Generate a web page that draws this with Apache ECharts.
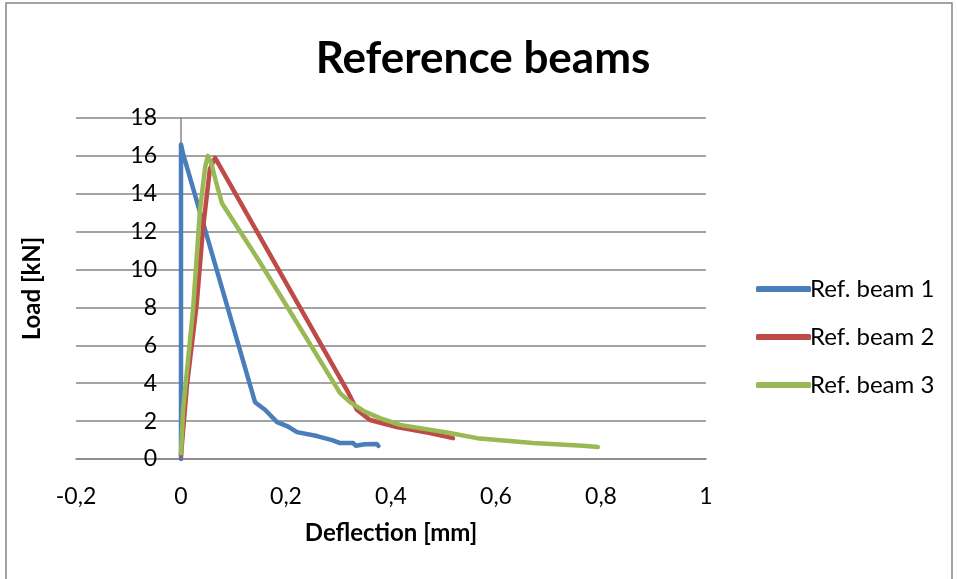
<!DOCTYPE html>
<html>
<head>
<meta charset="utf-8">
<script src="https://cdn.jsdelivr.net/npm/echarts@6/dist/echarts.min.js"></script>
<style>
  html, body { margin: 0; padding: 0; background: #fff; }
  #main { width: 957px; height: 579px; }
</style>
</head>
<body>
<div id="main"></div>
<script>
// data: [deflection mm, load kN]
var beam1 = [[0, 0], [0, 8], [0, 16.6], [0.004, 16.1], [0.141, 3.0], [0.16, 2.6], [0.183, 1.95],
    [0.202, 1.74], [0.221, 1.42], [0.259, 1.21], [0.288, 1.0], [0.303, 0.84], [0.328, 0.84],
    [0.333, 0.7], [0.35, 0.78], [0.373, 0.79], [0.376, 0.69]];
var beam2 = [[0, 0.2], [0.011, 3.8], [0.03, 8.2], [0.042, 12.2], [0.055, 15.3], [0.065, 15.9],
    [0.316, 3.64], [0.335, 2.6], [0.36, 2.06], [0.411, 1.69], [0.474, 1.37], [0.518, 1.1]];
var beam3 = [[0, 0.3], [0.004, 2.6], [0.023, 7.9], [0.036, 13.1], [0.046, 15.4], [0.051, 16.0],
    [0.058, 15.6], [0.066, 14.7], [0.078, 13.5], [0.15, 10.4], [0.303, 3.48], [0.322, 3.0], [0.35, 2.5],
    [0.379, 2.16], [0.417, 1.8], [0.512, 1.37], [0.564, 1.1], [0.67, 0.84], [0.766, 0.7], [0.794, 0.63]];
var seriesNames = ['Ref. beam 1', 'Ref. beam 2', 'Ref. beam 3'];
var colors = ['#4A7EBB', '#BE4B48', '#98B954'];
var xTicks = { min: -0.2, max: 1, interval: 0.2 };
var yTicks = { min: 0, max: 18, interval: 2 };

var myChart = echarts.init(document.getElementById('main'));
var font = 'Lato, "Open Sans", sans-serif';

function mkSeries(name, data, color) {
    return {
        name: name,
        type: 'line',
        data: data,
        showSymbol: false,
        smooth: false,
        lineStyle: { width: 4.5, color: color, cap: 'round', join: 'round' },
        itemStyle: { color: color }
    };
}

var option = {
    animation: false,
    backgroundColor: '#fff',
    title: {
        text: 'Reference beams',
        left: 478,
        top: 32,
        textAlign: 'center',
        textStyle: { fontFamily: font, fontWeight: 'bold', fontSize: 44, color: '#000' }
    },
    legend: {
        orient: 'vertical',
        left: 751,
        top: 272,
        itemWidth: 55,
        itemHeight: 6,
        itemGap: 24,
        icon: 'roundRect',
        textStyle: { fontFamily: font, fontSize: 24, color: '#000', padding: [0, 0, 0, -6] },
        data: seriesNames
    },
    grid: { left: 76, right: 251, top: 118, bottom: 120, outerBoundsMode: 'none', containLabel: false },
    xAxis: {
        type: 'value',
        min: xTicks.min,
        max: xTicks.max,
        interval: xTicks.interval,
        name: 'Deflection [mm]',
        nameLocation: 'middle',
        nameGap: 62,
        nameTextStyle: { fontFamily: font, fontWeight: 'bold', fontSize: 24, color: '#000' },
        axisLine: { show: true, lineStyle: { color: '#868686', width: 1.5 } },
        axisTick: { show: false },
        splitLine: { show: false },
        axisLabel: {
            margin: 26,
            fontFamily: font,
            fontSize: 23,
            color: '#000',
            formatter: function (v) { return String(Math.round(v * 10) / 10).replace('.', ','); }
        }
    },
    yAxis: {
        type: 'value',
        min: yTicks.min,
        max: yTicks.max,
        interval: yTicks.interval,
        name: 'Load [kN]',
        nameLocation: 'middle',
        nameRotate: 90,
        nameGap: 32,
        nameTextStyle: { fontFamily: font, fontWeight: 'bold', fontSize: 24, color: '#000' },
        axisLine: { show: true, onZero: true, lineStyle: { color: '#868686', width: 1.5 } },
        axisTick: { show: false },
        splitLine: { show: true, lineStyle: { color: '#868686', width: 1.5 } },
        // labels sit beside the zero line, not at the plot's left edge
        axisLabel: { margin: -81, fontFamily: font, fontSize: 23, color: '#000' }
    },
    graphic: [{
        type: 'rect',
        shape: { x: 6, y: 3, width: 946, height: 600 },
        style: { fill: null, stroke: '#868686', lineWidth: 1.5 },
        silent: true
    }],
    series: [
        mkSeries(seriesNames[0], beam1, colors[0]),
        mkSeries(seriesNames[1], beam2, colors[1]),
        mkSeries(seriesNames[2], beam3, colors[2])
    ]
};

myChart.setOption(option);
</script>
</body>
</html>
